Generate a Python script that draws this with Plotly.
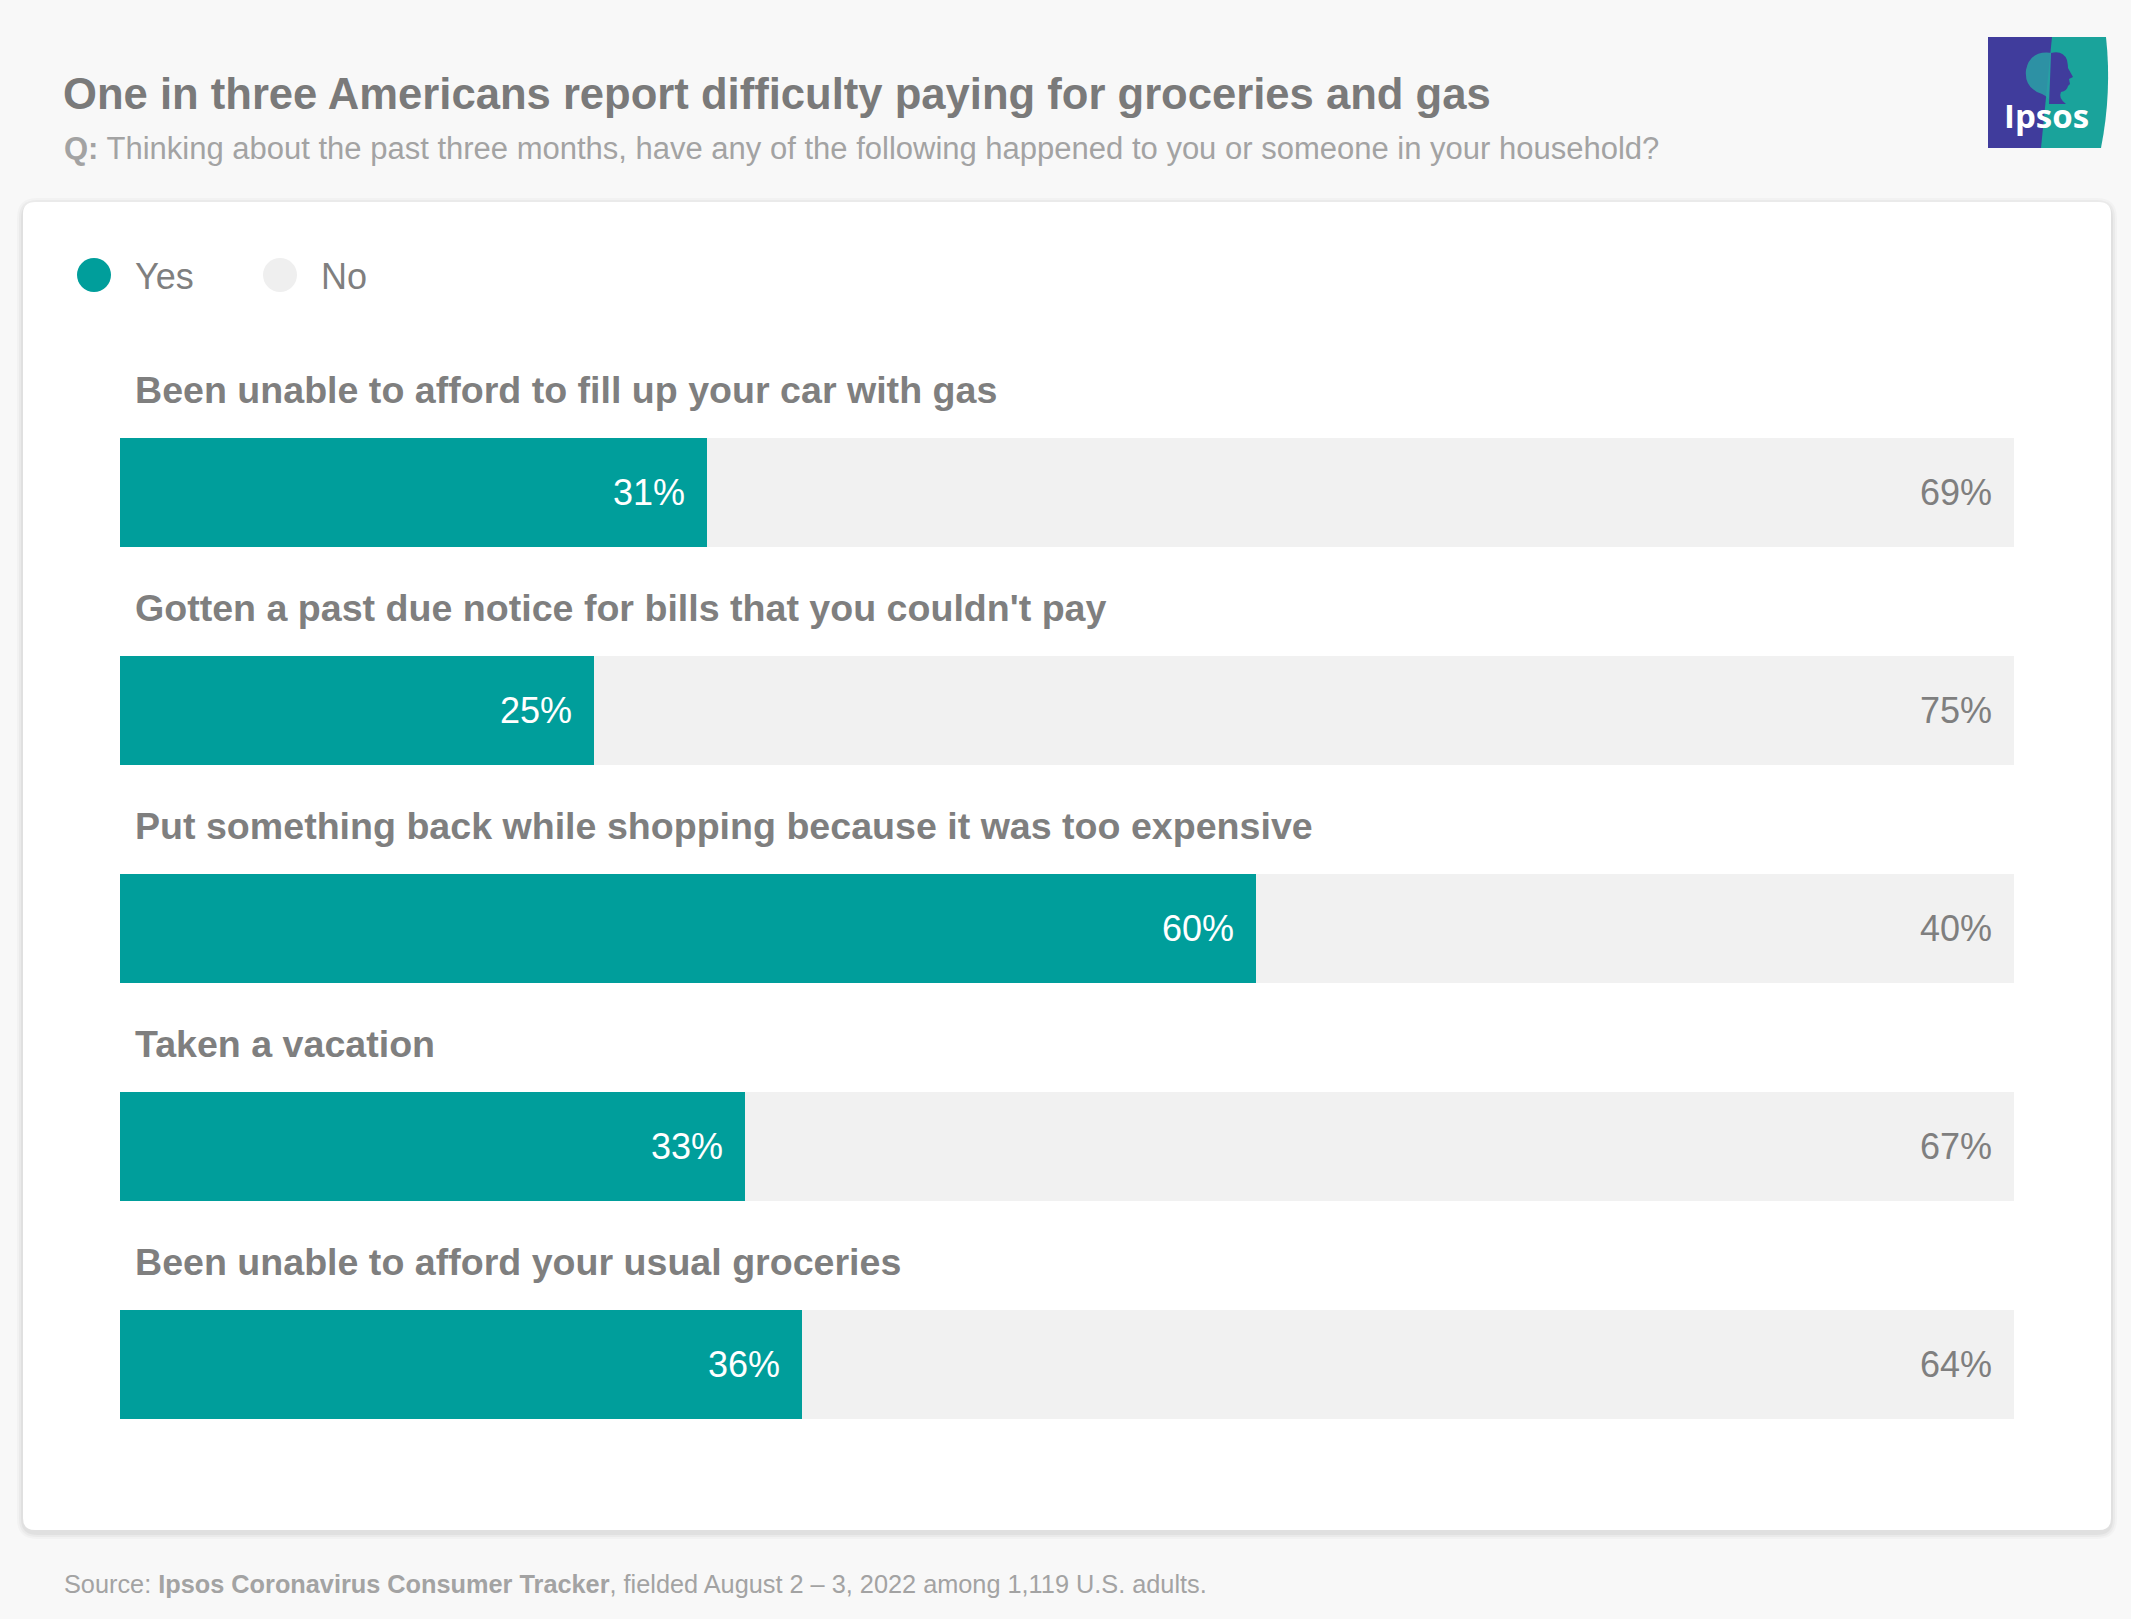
import plotly.graph_objects as go

W, H = 2131, 1619

categories = [
    "Been unable to afford to fill up your car with gas",
    "Gotten a past due notice for bills that you couldn't pay",
    "Put something back while shopping because it was too expensive",
    "Taken a vacation",
    "Been unable to afford your usual groceries",
]
yes_values = [31, 25, 60, 33, 36]
no_values = [69, 75, 40, 67, 64]
series_names = ["Yes", "No"]

TEAL = "#009e9b"
LIGHT = "#f1f1f1"
GRAY = "#7f7f7f"
FONT = "Liberation Sans, Arial, Helvetica, sans-serif"


def px(x):
    return x / W


def py(y):
    return 1 - y / H


fig = go.Figure()
fig.add_trace(go.Bar(y=categories, x=yes_values, orientation="h", name=series_names[0],
                     marker=dict(color=TEAL, line=dict(width=0)), hoverinfo="skip", showlegend=False))
fig.add_trace(go.Bar(y=categories, x=no_values, orientation="h", name=series_names[1],
                     marker=dict(color=LIGHT, line=dict(width=0)), hoverinfo="skip", showlegend=False))

annotations = []
for cat, yv, nv in zip(categories, yes_values, no_values):
    annotations.append(dict(x=0, y=cat, xref="x", yref="y", text=f"<b>{cat}</b>", showarrow=False,
                            xanchor="left", yanchor="middle", xshift=13, yshift=102,
                            font=dict(family=FONT, size=37.6, color=GRAY)))
    annotations.append(dict(x=yv, y=cat, xref="x", yref="y", text=f"{yv}%", showarrow=False,
                            xanchor="right", yanchor="middle", xshift=-20,
                            font=dict(family=FONT, size=36, color="white")))
    annotations.append(dict(x=yv + nv, y=cat, xref="x", yref="y", text=f"{nv}%", showarrow=False,
                            xanchor="right", yanchor="middle", xshift=-20,
                            font=dict(family=FONT, size=36, color=GRAY)))

# Title, subtitle, source
annotations.append(dict(x=px(61), y=py(94), xref="paper", yref="paper", showarrow=False,
                        xanchor="left", yanchor="middle",
                        text="<b>One in three Americans report difficulty paying for groceries and gas</b>",
                        font=dict(family=FONT, size=43.6, color="#7a7a7a")))
annotations.append(dict(x=px(62), y=py(148), xref="paper", yref="paper", showarrow=False,
                        xanchor="left", yanchor="middle",
                        text="<b>Q:</b> Thinking about the past three months, have any of the following happened to you or someone in your household?",
                        font=dict(family=FONT, size=31, color="#a3a3a3")))
annotations.append(dict(x=px(62), y=py(1584), xref="paper", yref="paper", showarrow=False,
                        xanchor="left", yanchor="middle",
                        text="Source: <b>Ipsos Coronavirus Consumer Tracker</b>, fielded August 2 – 3, 2022 among 1,119 U.S. adults.",
                        font=dict(family=FONT, size=25.3, color="#a3a3a3")))

# Legend (drawn)
legend_items = [(series_names[0], TEAL, 94), (series_names[1], "#efefef", 280)]
shapes = []


def rounded_rect(x0, y0, x1, y1, r):
    rx, ry = r / W, r / H
    X0, X1 = px(x0), px(x1)
    Y0, Y1 = py(y0), py(y1)  # Y0 top, Y1 bottom
    return (f"M {X0+rx},{Y0} L {X1-rx},{Y0} Q {X1},{Y0} {X1},{Y0-ry} "
            f"L {X1},{Y1+ry} Q {X1},{Y1} {X1-rx},{Y1} L {X0+rx},{Y1} "
            f"Q {X0},{Y1} {X0},{Y1+ry} L {X0},{Y0-ry} Q {X0},{Y0} {X0+rx},{Y0} Z")


def pix_path(cmds):
    out = []
    for c in cmds:
        if isinstance(c, str):
            out.append(c)
        else:
            out.append(f"{px(c[0])},{py(c[1])}")
    return " ".join(out)


# card shadow
for i, op in enumerate([0.025, 0.03, 0.04]):
    g = 6 - 2 * i
    shapes.append(dict(type="path", xref="paper", yref="paper", layer="below",
                       path=rounded_rect(23 - g, 202 - g + 2, 2111 + g, 1530 + g + 3, 14 + g),
                       fillcolor=f"rgba(0,0,0,{op})", line=dict(width=0)))
shapes.append(dict(type="path", xref="paper", yref="paper", layer="below",
                   path=rounded_rect(23, 202, 2111, 1530, 12),
                   fillcolor="white", line=dict(width=0)))

for name, col, cx in legend_items:
    r = 17
    shapes.append(dict(type="circle", xref="paper", yref="paper",
                       x0=px(cx - r), x1=px(cx + r), y0=py(275 + r), y1=py(275 - r),
                       fillcolor=col, line=dict(width=0)))
    annotations.append(dict(x=px(cx + 39), y=py(276), xref="paper", yref="paper", showarrow=False,
                            xanchor="left", yanchor="middle", text=name,
                            font=dict(family=FONT, size=36, color=GRAY)))

# Ipsos logo
PURPLE = "#403c9c"
LOGO_TEAL = "#1aa39b"
shapes.append(dict(type="path", xref="paper", yref="paper",
                   path=pix_path(["M", (1988, 37), "L", (2053, 37), "L", (2042, 148),
                                  "L", (1988, 148), "Z"]),
                   fillcolor=PURPLE, line=dict(width=0)))
shapes.append(dict(type="path", xref="paper", yref="paper",
                   path=pix_path(["M", (2052, 37), "L", (2106, 37), "Q", (2112, 92), (2101, 148),
                                  "L", (2041, 148), "Z"]),
                   fillcolor=LOGO_TEAL, line=dict(width=0)))
# hair (teal on purple)
shapes.append(dict(type="path", xref="paper", yref="paper",
                   path=pix_path(["M", (2052, 53), "Q", (2030, 50), (2026, 70), "Q", (2024, 88), (2042, 94),
                                  "Q", (2049, 97), (2050, 103), "L", (2052, 103), "Z"]),
                   fillcolor="#2aa0a6", line=dict(width=0), opacity=0.85))
# face profile (purple on teal)
shapes.append(dict(type="path", xref="paper", yref="paper",
                   path=pix_path(["M", (2051, 53), "Q", (2063, 50), (2067, 60), "Q", (2068, 65), (2068, 68),
                                  "L", (2073, 77), "L", (2069, 79), "L", (2070, 84), "L", (2068, 86),
                                  "Q", (2067, 91), (2061, 92), "Q", (2058, 98), (2066, 104),
                                  "L", (2049, 104), "L", (2050, 80), "Z"]),
                   fillcolor=PURPLE, line=dict(width=0)))
annotations.append(dict(x=px(2046), y=py(116), xref="paper", yref="paper", showarrow=False,
                        xanchor="center", yanchor="middle", text="<b>Ipsos</b>",
                        font=dict(family="Open Sans, Liberation Sans, sans-serif", size=33, color="white")))

# plot area geometry: bars from x=120 to 2014 px, 5 slots of 218 px from y=383
fig.update_layout(
    width=W, height=H,
    margin=dict(l=0, r=0, t=0, b=0),
    paper_bgcolor="#f8f8f8",
    plot_bgcolor="rgba(0,0,0,0)",
    barmode="stack",
    bargap=0.5,
    showlegend=False,
    xaxis=dict(domain=[px(120), px(2014)], range=[0, 100], visible=False, fixedrange=True),
    yaxis=dict(domain=[py(1473), py(383)], categoryorder="array", categoryarray=categories,
               range=[len(categories) - 0.5, -0.5], visible=False, fixedrange=True),
    annotations=annotations,
    shapes=shapes,
)

fig.write_html("out.html", include_plotlyjs=True, config={"displayModeBar": False},
               post_script="document.body.style.margin='0';")
